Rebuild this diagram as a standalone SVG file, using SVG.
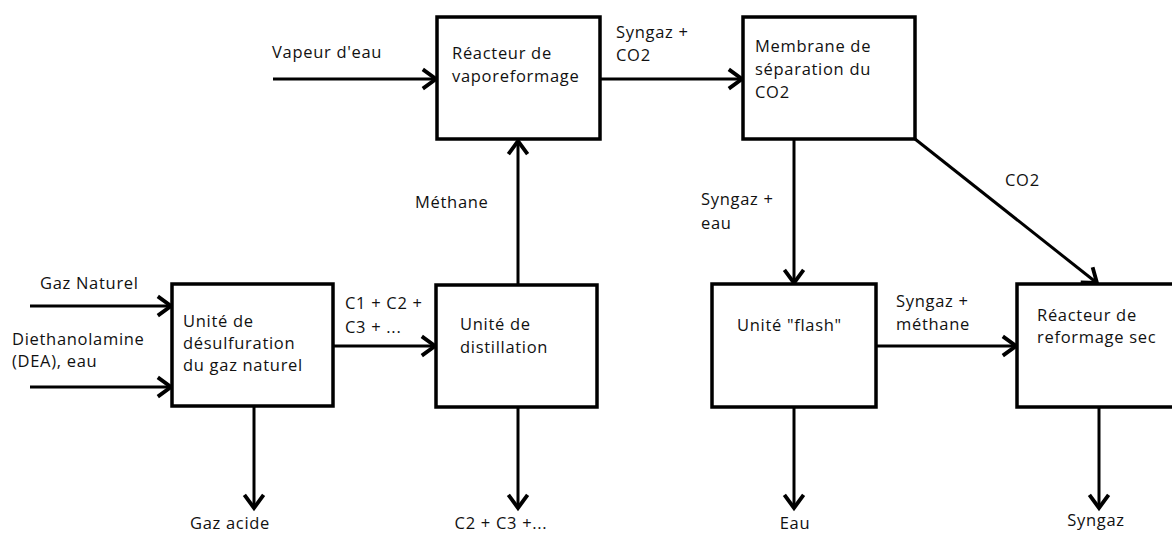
<svg xmlns="http://www.w3.org/2000/svg" width="1172" height="533" viewBox="0 0 1172 533">
  <style>
    .box { fill: #ffffff; stroke: #000000; stroke-width: 3.5; }
    .flow { fill: none; stroke: #000000; stroke-width: 3; marker-end: url(#arrow); }
    text { font-family: "Open Sans", "Noto Sans", "Liberation Sans", sans-serif; font-size: 16.5px; letter-spacing: 0.7px; fill: #111111; }
    .mid { text-anchor: middle; }
  </style>
  <defs>
    <marker id="arrow" markerUnits="userSpaceOnUse" markerWidth="24" markerHeight="24" refX="0" refY="0" viewBox="-14 -10 16 20" orient="auto">
      <path d="M-11,-8 L0,0 L-11,8" fill="none" stroke="#000000" stroke-width="3.2"/>
    </marker>
  </defs>
  <rect width="1172" height="533" fill="#ffffff"/>

  <!-- connectors -->
  <g id="connectors">
    <line class="flow" x1="30" y1="306" x2="171" y2="306"/>
    <line class="flow" x1="30" y1="387" x2="171" y2="387"/>
    <line class="flow" x1="333" y1="346" x2="435" y2="346"/>
    <line class="flow" x1="518" y1="285" x2="518" y2="141"/>
    <line class="flow" x1="273" y1="79" x2="436" y2="79"/>
    <line class="flow" x1="600" y1="79" x2="742" y2="79"/>
    <line class="flow" x1="794" y1="139" x2="794" y2="283"/>
    <line class="flow" x1="915" y1="139" x2="1097" y2="283"/>
    <line class="flow" x1="876" y1="346" x2="1016" y2="346"/>
    <line class="flow" x1="254" y1="406" x2="254" y2="508"/>
    <line class="flow" x1="518" y1="407" x2="518" y2="508"/>
    <line class="flow" x1="794" y1="407" x2="794" y2="508"/>
    <line class="flow" x1="1099" y1="407" x2="1099" y2="508"/>

    <!-- stream labels -->
    <text x="40" y="289">Gaz Naturel</text>
    <text x="12" y="345">Diethanolamine</text>
    <text x="12" y="367">(DEA), eau</text>
    <text x="272" y="58">Vapeur d'eau</text>
    <text x="345" y="309">C1 + C2 +</text>
    <text x="345" y="333">C3 + ...</text>
    <text x="415" y="208">Méthane</text>
    <text x="616" y="38">Syngaz +</text>
    <text x="616" y="61">CO2</text>
    <text x="701" y="205">Syngaz +</text>
    <text x="701" y="229">eau</text>
    <text x="1005" y="186">CO2</text>
    <text x="896" y="307">Syngaz +</text>
    <text x="896" y="330">méthane</text>
    <text class="mid" x="230" y="529">Gaz acide</text>
    <text class="mid" x="501" y="529">C2 + C3 +...</text>
    <text class="mid" x="795" y="529">Eau</text>
    <text class="mid" x="1096" y="526">Syngaz</text>
  </g>

  <!-- process units -->
  <g id="desulfuration">
    <rect class="box" x="172" y="284" width="161" height="122"/>
    <text x="183" y="327">Unité de</text>
    <text x="183" y="349">désulfuration</text>
    <text x="183" y="371">du gaz naturel</text>
  </g>
  <g id="distillation">
    <rect class="box" x="436" y="285" width="161" height="122"/>
    <text x="460" y="330">Unité de</text>
    <text x="460" y="353">distillation</text>
  </g>
  <g id="vaporeformage">
    <rect class="box" x="437" y="17" width="163" height="122"/>
    <text x="452" y="59">Réacteur de</text>
    <text x="452" y="82">vaporeformage</text>
  </g>
  <g id="membrane">
    <rect class="box" x="743" y="17" width="172" height="122"/>
    <text x="755" y="52">Membrane de</text>
    <text x="755" y="75">séparation du</text>
    <text x="755" y="98">CO2</text>
  </g>
  <g id="flash">
    <rect class="box" x="712" y="284" width="164" height="123"/>
    <text x="737" y="331">Unité "flash"</text>
  </g>
  <g id="reformage-sec">
    <rect class="box" x="1017" y="284" width="170" height="123"/>
    <text x="1037" y="321">Réacteur de</text>
    <text x="1037" y="343">reformage sec</text>
  </g>
</svg>
